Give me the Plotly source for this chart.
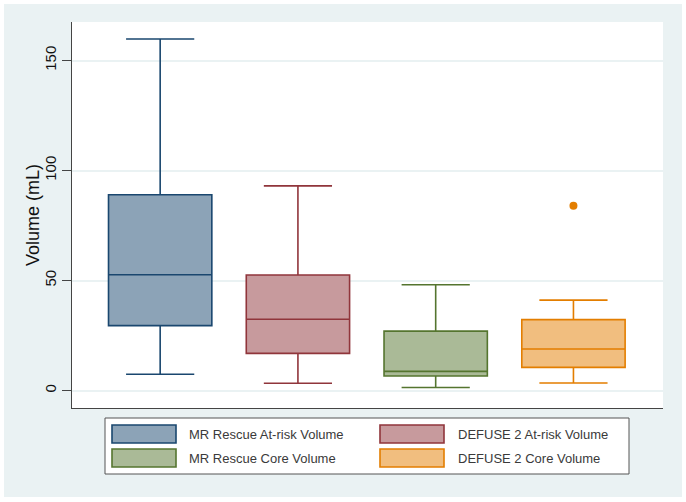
import plotly.graph_objects as go

# box statistics (mL)
groups = ["MR Rescue At-risk Volume", "DEFUSE 2 At-risk Volume",
          "MR Rescue Core Volume", "DEFUSE 2 Core Volume"]
q1 = [29.5, 16.9, 6.6, 10.5]
median = [52.6, 32.4, 8.7, 18.9]
q3 = [89.0, 52.5, 27.0, 32.2]
lower_whisker = [7.4, 3.3, 1.4, 3.4]
upper_whisker = [159.8, 93.0, 48.1, 41.1]
outlier_group = [3]
outlier_value = [84.0]
y_ticks = [0, 50, 100, 150]

line_colors = ["#1a476f", "#90353b", "#55752f", "#e37e00"]
fill_colors = ["#8ca3b7", "#c79a9d", "#aaba97", "#f1be7f"]

W, H = 686, 502
L, R, T, B = 72, 23, 22, 94
PW, PH = W - L - R, H - T - B


def px_x(p):
    return (p - L) / PW


def px_y(p):
    return (H - B - p) / PH


fig = go.Figure()
for i, name in enumerate(groups):
    fig.add_trace(go.Box(
        x=[i], q1=[q1[i]], median=[median[i]], q3=[q3[i]],
        lowerfence=[lower_whisker[i]], upperfence=[upper_whisker[i]],
        name=name, width=0.75, whiskerwidth=0.66, boxpoints=False,
        fillcolor=fill_colors[i], line=dict(color=line_colors[i], width=1.6),
        showlegend=False, hoverinfo="skip",
    ))

fig.add_trace(go.Scatter(
    x=outlier_group, y=outlier_value, mode="markers",
    marker=dict(color=line_colors[3], size=8), showlegend=False,
))

shapes = [
    # outer graph region and white plot region
    dict(type="rect", xref="paper", yref="paper", x0=px_x(4), x1=px_x(682),
         y0=px_y(497), y1=px_y(4), fillcolor="#eaf2f3", line_width=0, layer="below"),
    dict(type="rect", xref="paper", yref="paper", x0=0, x1=1, y0=0, y1=1,
         fillcolor="white", line_width=0, layer="below"),
    # legend frame
    dict(type="rect", xref="paper", yref="paper", x0=px_x(105), x1=px_x(629),
         y0=px_y(474), y1=px_y(418), fillcolor="white",
         line=dict(color="#555555", width=1)),
]
annotations = [
    # y axis title, placed by hand to match the Stata layout
    dict(xref="paper", yref="paper", x=px_x(33), y=0.5, text="Volume (mL)",
         textangle=-90, showarrow=False, xanchor="center", yanchor="middle",
         font=dict(size=18, color="#111111")),
]
swatch_x = [112, 380]
text_x = [187, 456]
row_y = [434, 458]
for i, name in enumerate(groups):
    col, row = i % 2, i // 2
    cy = row_y[row]
    shapes.append(dict(type="rect", xref="paper", yref="paper",
                       x0=px_x(swatch_x[col]), x1=px_x(swatch_x[col] + 64),
                       y0=px_y(cy + 9), y1=px_y(cy - 9),
                       fillcolor=fill_colors[i], line=dict(color=line_colors[i], width=1.6)))
    annotations.append(dict(xref="paper", yref="paper", x=px_x(text_x[col]), y=px_y(cy),
                            text=name, showarrow=False, xanchor="left", yanchor="middle",
                            font=dict(size=13, color="#3a3a3a")))

fig.update_layout(
    width=W, height=H,
    margin=dict(l=L, r=R, t=T, b=B),
    paper_bgcolor="white", plot_bgcolor="rgba(0,0,0,0)",
    font=dict(family="Liberation Sans, Arial, sans-serif", color="#111111"),
    shapes=shapes, annotations=annotations,
    showlegend=False,
)
fig.update_xaxes(range=[-0.64, 3.65], showgrid=False, zeroline=False, showticklabels=False,
                 showline=True, linecolor="#444444", linewidth=1.2, ticks="")
fig.update_yaxes(range=[-7.95, 167.5], tickvals=y_ticks, tickangle=-90,
                 tickfont=dict(size=15), ticks="outside", ticklen=9, tickcolor="#444444",
                 showline=True, linecolor="#444444", linewidth=1.2,
                 showgrid=True, gridcolor="#eaf2f3", gridwidth=1.5, zeroline=False)

# drop the default page margin so the figure sits at the window's top-left corner
fig.write_html("out.html", config={"displayModeBar": False},
               post_script="document.body.style.margin='0';")
